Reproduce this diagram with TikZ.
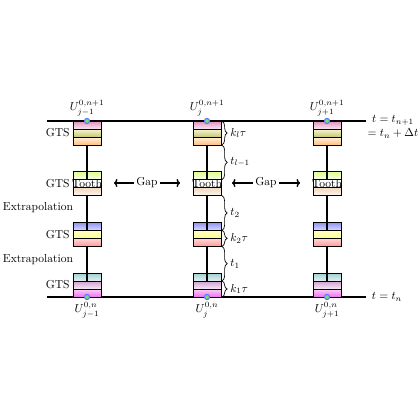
\documentclass[tikz,border=0pt]{standalone}
\usetikzlibrary{decorations.pathreplacing,arrows.meta}
\definecolor{pkA}{HTML}{E090C0}\definecolor{pkB}{HTML}{F8E8F0}
\definecolor{olA}{HTML}{F4F4D8}\definecolor{olB}{HTML}{C8C870}
\definecolor{orA}{HTML}{FFF0E0}\definecolor{orB}{HTML}{FFC080}
\definecolor{gnA}{HTML}{E0FF90}\definecolor{gnB}{HTML}{F8FFE8}
\definecolor{tnA}{HTML}{EED8C0}\definecolor{tnB}{HTML}{FFF6EE}
\definecolor{blA}{HTML}{9090F0}\definecolor{blB}{HTML}{DCDCFF}
\definecolor{ylA}{HTML}{FFFFC8}\definecolor{ylB}{HTML}{FFFF90}
\definecolor{rdA}{HTML}{FFD8D8}\definecolor{rdB}{HTML}{FF9898}
\definecolor{tlA}{HTML}{A0D0D0}\definecolor{tlB}{HTML}{E4F2F2}
\definecolor{mvA}{HTML}{D0A0D0}\definecolor{mvB}{HTML}{F6EAF6}
\definecolor{mgA}{HTML}{F8D0F8}\definecolor{mgB}{HTML}{F070F0}
\definecolor{dotfill}{HTML}{70E070}\definecolor{dotdraw}{HTML}{6070FF}
\begin{document}
\begin{tikzpicture}[x=0.866pt,y=-0.866pt,
  stripe/.style 2 args={draw=black,line width=0.6pt,top color=#1,bottom color=#2,minimum width=24.25pt,minimum height=6.93pt,inner sep=0pt,outer sep=0pt},
  axis/.style={line width=1.3pt},
  vline/.style={line width=1.3pt},
  dot/.style={circle,draw=dotdraw,fill=dotfill,line width=0.9pt,minimum size=4.5pt,inner sep=0pt},
  gaparrow/.style={line width=1.2pt,-{To[length=3pt,width=7pt]}},
  brc/.style={decorate,decoration={brace,amplitude=4.5pt},line width=0.6pt},
  blbl/.style={anchor=west,inner sep=1pt}]
\useasboundingbox (0,0) rectangle (420,420);
% time lines
\coordinate (tl) at (47,121); \coordinate (tr) at (366,121);
\coordinate (bl) at (47,297); \coordinate (br) at (366,297);
\draw[axis] (tl) -- (tr);
\draw[axis] (bl) -- (br);
% columns
\foreach \c/\x/\s in {a/87/j-1,b/207/j,c/327/j+1}{
  \node[stripe={pkA}{pkB}] (\c1a) at (\x,125) {};
  \node[stripe={olA}{olB}] (\c1b) at (\x,133) {};
  \node[stripe={orA}{orB}] (\c1c) at (\x,141) {};
  \node[stripe={gnA}{gnB}] (\c2a) at (\x,175.67) {};
  \node[stripe={white}{white}] (\c2b) at (\x,183.67) {};
  \node[stripe={tnA}{tnB}] (\c2c) at (\x,191.67) {};
  \node[stripe={blA}{blB}] (\c3a) at (\x,226.33) {};
  \node[stripe={ylA}{ylB}] (\c3b) at (\x,234.33) {};
  \node[stripe={rdA}{rdB}] (\c3c) at (\x,242.33) {};
  \node[stripe={tlA}{tlB}] (\c4a) at (\x,277) {};
  \node[stripe={mvA}{mvB}] (\c4b) at (\x,285) {};
  \node[stripe={mgA}{mgB}] (\c4c) at (\x,293) {};
  \node[inner sep=0pt] (\c T) at (\c2b.center) {Tooth};
  \draw[vline] (\c1c.south) -- (\c2a.south);
  \draw[vline] (\c2c.south) -- (\c3a.south);
  \draw[vline] (\c3c.south) -- (\c4a.south);
  \node[dot] (\c top) at (\x,121) {};
  \node[dot] (\c bot) at (\x,297) {};
  \node (\c U1) at (\x,108) {$U_{\s}^{0,n+1}$};
  \node (\c U0) at (\x,310) {$U_{\s}^{0,n}$};
}
% left labels
\node[anchor=east,inner sep=1pt] (g1) at (71,133) {GTS};
\node[anchor=east,inner sep=1pt] (g2) at (71,183.67) {GTS};
\node[anchor=east,inner sep=1pt] (g3) at (71,234.33) {GTS};
\node[anchor=east,inner sep=1pt] (g4) at (71,285) {GTS};
\node (e1) at (38,207.5) {Extrapolation};
\node (e2) at (38,260) {Extrapolation};
% gaps
\node[inner sep=1.5pt] (gapA) at (147,183) {Gap};
\coordinate (gapAl) at (114,183); \coordinate (gapAr) at (180,183);
\draw[gaparrow] (gapA.west) -- (gapAl);
\draw[gaparrow] (gapA.east) -- (gapAr);
\node[inner sep=1.5pt] (gapB) at (266,183) {Gap};
\coordinate (gapBl) at (232,183); \coordinate (gapBr) at (300,183);
\draw[gaparrow] (gapB.west) -- (gapBl);
\draw[gaparrow] (gapB.east) -- (gapBr);
% braces
\coordinate (r0) at (222,121);
\coordinate (r1) at (222,145);
\coordinate (r2) at (222,179.67);
\coordinate (r3) at (222,195.67);
\coordinate (r4) at (222,230.33);
\coordinate (r5) at (222,246.33);
\coordinate (r6) at (222,281);
\coordinate (r7) at (222,297);
\draw[brc] (r0) -- (r1);
\draw[brc] (r1) -- (r2);
\draw[brc] (r3) -- (r4);
\draw[brc] (r4) -- (r5);
\draw[brc] (r5) -- (r6);
\draw[brc] (r6) -- (r7);
\node[blbl] (k3) at (229,133) {$k_l\tau$};
\node[blbl] (t3) at (229,162) {$t_{l-1}$};
\node[blbl] (t2) at (229,213) {$t_2$};
\node[blbl] (k2) at (229,238.33) {$k_2\tau$};
\node[blbl] (t1) at (229,264) {$t_1$};
\node[blbl] (k1) at (229,289) {$k_1\tau$};
% right labels
\node[align=center,inner sep=0pt] (tn1) at (393,127) {$t = t_{n+1}$\\$= t_n + \Delta t$};
\node[inner sep=0pt] (tn) at (387,297) {$t = t_n$};
\end{tikzpicture}
\end{document}
